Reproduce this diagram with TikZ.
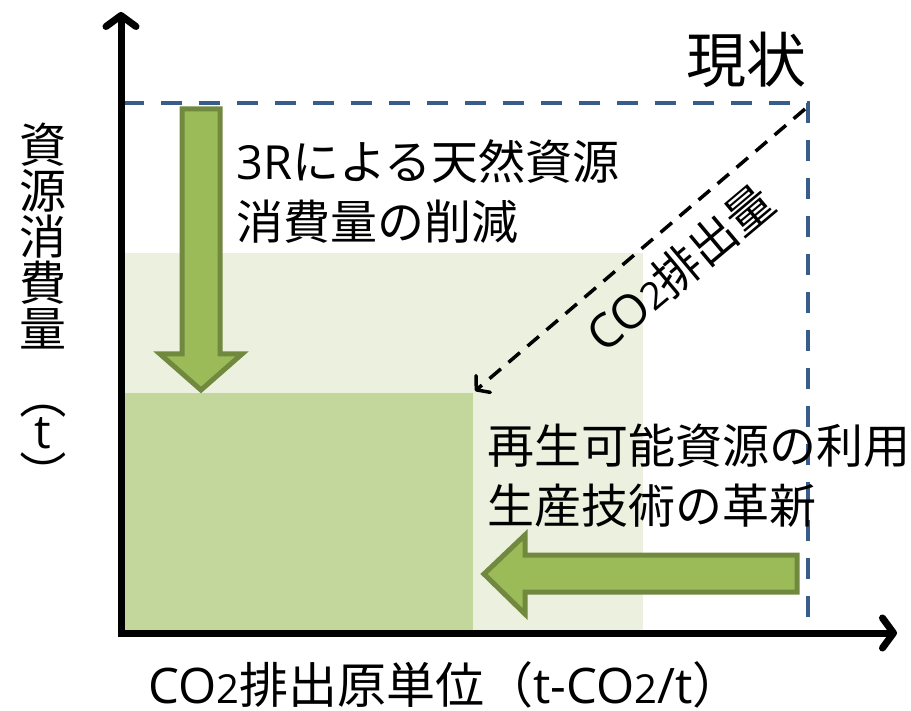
\documentclass[tikz,border=0pt]{standalone}
\usepackage{fontspec}
\setmainfont{Noto Sans CJK JP}
\newfontfamily\lat{Open Sans}
\usetikzlibrary{arrows.meta}
\definecolor{lightg}{HTML}{EBF1DE}
\definecolor{midg}{HTML}{C3D69B}
\definecolor{arrg}{HTML}{9BBB59}
\definecolor{arrb}{HTML}{71893F}
\definecolor{dblue}{HTML}{385D8A}
\newcommand{\two}{{\lat\fontsize{38}{38}\selectfont 2}}
\newcommand{\twob}{{\lat\fontsize{40}{40}\selectfont 2}}
\tikzset{
  axis/.style={line width=7pt, -{Straight Barb[length=11pt,width=30pt,round]}},
  fatarrow/.style={fill=arrg, draw=arrb, line width=5pt, line join=miter},
  lbl/.style={font=\fontsize{47}{60}\selectfont, inner sep=0pt, align=left},
}
\begin{document}
\begin{tikzpicture}[x=1pt,y=-1pt]
\useasboundingbox (0,0) rectangle (911,711);
% regions
\fill[lightg] (123,253) rectangle (643,633);
\fill[midg] (123,393) rectangle (473,633);
% dashed box
\draw[dblue, line width=4pt, dash pattern=on 21pt off 17pt] (123,103) -- (808,103) -- (808,633);
% diagonal
\coordinate (dstart) at (805,109);
\coordinate (dend) at (475,391);
\draw[line width=3.5pt, dash pattern=on 15pt off 10pt, -{Straight Barb[length=9pt,width=22pt,round]}] (dstart) -- (dend);
% fat arrows
\draw[fatarrow] (182,109) -- (220,109) -- (220,354) -- (242,354) -- (201,390) -- (160,354) -- (182,354) -- cycle;
\draw[fatarrow] (797,555) -- (797,592) -- (525,592) -- (525,614) -- (484,574) -- (525,535) -- (525,555) -- cycle;
% axes
\coordinate (ytop) at (121,12);
\coordinate (xend) at (897,633);
\draw[axis] (121,636.5) -- (ytop);
\draw[axis] (117.5,633) -- (xend);
% texts
\node[lbl, font=\fontsize{60}{60}\selectfont, anchor=center] (genjo) at (746,60) {現状};
\node[lbl, anchor=west] (t3r) at (236,162) {{\lat 3R}による天然資源};
\node[lbl, anchor=west] (t3r2) at (236,222) {消費量の削減};
\node[lbl, anchor=west] (saisei) at (487,446) {再生可能資源の利用};
\node[lbl, anchor=west] (seisan) at (487,506) {生産技術の革新};
\node[lbl, rotate=40, anchor=center] (co2) at (680,268) {{\lat CO}\two 排出量};
\node[lbl, font=\fontsize{49}{60}\selectfont, anchor=west] (xl) at (148,685) {{\lat CO}\twob 排出原単位（{\lat t-CO}\twob{\lat /t}）};
\node[lbl] (y1) at (43,145) {資};
\node[lbl] (y2) at (43,191) {源};
\node[lbl] (y3) at (43,237) {消};
\node[lbl] (y4) at (43,283) {費};
\node[lbl] (y5) at (43,329) {量};
\node[lbl, rotate=-90] (yp1) at (43,396) {（};
\node[lbl] (yt) at (43,433) {{\lat t}};
\node[lbl, rotate=-90] (yp2) at (43,474) {）};
\end{tikzpicture}
\end{document}
